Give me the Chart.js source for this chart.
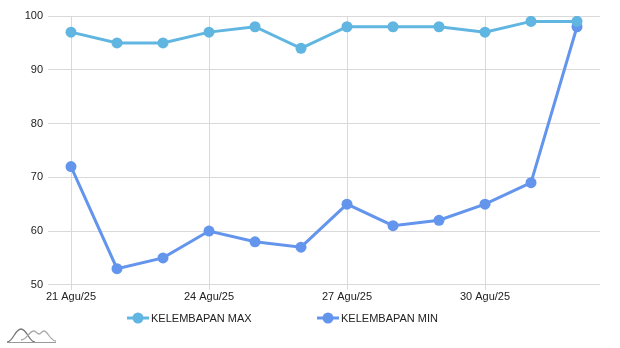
<!DOCTYPE html>
<html>
<head>
<meta charset="utf-8">
<script src="https://cdn.jsdelivr.net/npm/chart.js@4"></script>
<style>
html,body{margin:0;padding:0;background:#fff;}
#wrap{position:relative;width:620px;height:348px;}
#logo{position:absolute;left:5px;top:326px;}
.lg{position:absolute;top:311px;height:14px;display:flex;align-items:center;font:11px "Liberation Sans",Arial,sans-serif;color:#222;white-space:nowrap;}
.lg svg{margin-right:2px;}
</style>
</head>
<body>
<div id="wrap">
<canvas id="c" width="620" height="348"></canvas>
<div id="legend"></div>
<svg id="logo" width="52" height="18" viewBox="0 0 52 18">
  <path d="M2 16 C8 16 10 3 16 3 C22 3 24 16 30 16" fill="none" stroke="#777" stroke-width="1.3"/>
  <path d="M16 14 C22 14 24 5 29 5 C31 5 32 8 34 8 C36 8 37 5 39 5 C43 5 45 15 51 15" fill="none" stroke="#aaa" stroke-width="1.3"/>
  <line x1="2" y1="16.5" x2="51" y2="16.5" stroke="#999" stroke-width="1"/>
</svg>
</div>
<script>
const dates = ["21 Agu/25","22 Agu/25","23 Agu/25","24 Agu/25","25 Agu/25","26 Agu/25","27 Agu/25","28 Agu/25","29 Agu/25","30 Agu/25","31 Agu/25","01 Sep/25"];
const humidityMax = [97,95,95,97,98,94,98,98,98,97,99,99];
const humidityMin = [72,53,55,60,58,57,65,61,62,65,69,98];
const seriesNames = ["KELEMBAPAN MAX","KELEMBAPAN MIN"];
const seriesColors = ["#60b6e0","#6495ed"];
const yTicks = [50,60,70,80,90,100];

// HTML legend built from series names/colors
const legendX = [127, 317];
const legendEl = document.getElementById('legend');
seriesNames.forEach((name, i) => {
  const d = document.createElement('div');
  d.className = 'lg';
  d.style.left = legendX[i] + 'px';
  d.innerHTML = '<svg width="22" height="12"><line x1="0" y1="6" x2="22" y2="6" stroke="' + seriesColors[i] +
    '" stroke-width="3"/><circle cx="11" cy="6" r="5.5" fill="' + seriesColors[i] + '"/></svg>';
  const s = document.createElement('span');
  s.textContent = name;
  d.appendChild(s);
  legendEl.appendChild(d);
});

new Chart(document.getElementById('c'), {
  type: 'line',
  data: {
    labels: dates,
    datasets: seriesNames.map((n, i) => ({
      label: n,
      data: i === 0 ? humidityMax : humidityMin,
      borderColor: seriesColors[i], backgroundColor: seriesColors[i],
      borderWidth: 3, pointRadius: 5.5, pointHoverRadius: 5.5, pointBorderWidth: 0, tension: 0
    }))
  },
  options: {
    responsive: false,
    animation: false,
    devicePixelRatio: 1,
    layout: {padding: {left: 0, right: 20, top: 16, bottom: 43}},
    scales: {
      x: {
        offset: true,
        border: {display: false},
        grid: {
          offset: false,
          tickLength: 5,
          color: ctx => (ctx.index % 3 === 0) ? '#d9d9d9' : 'rgba(0,0,0,0)'
        },
        ticks: {
          autoSkip: false, maxRotation: 0, padding: 1,
          color: '#222', font: {family: 'Liberation Sans, Arial', size: 11},
          callback: (v, i) => (i % 3 === 0) ? dates[i] : ''
        }
      },
      y: {
        min: 50, max: 100,
        afterBuildTicks: s => { s.ticks = yTicks.map(v => ({value: v})); },
        afterFit: s => { s.width = 48; },
        border: {display: false},
        grid: {color: '#d9d9d9', drawTicks: false},
        ticks: {padding: 5, color: '#222', font: {family: 'Liberation Sans, Arial', size: 11}}
      }
    },
    plugins: {
      tooltip: {enabled: false},
      legend: {display: false}
    }
  }
});
</script>
</body>
</html>
